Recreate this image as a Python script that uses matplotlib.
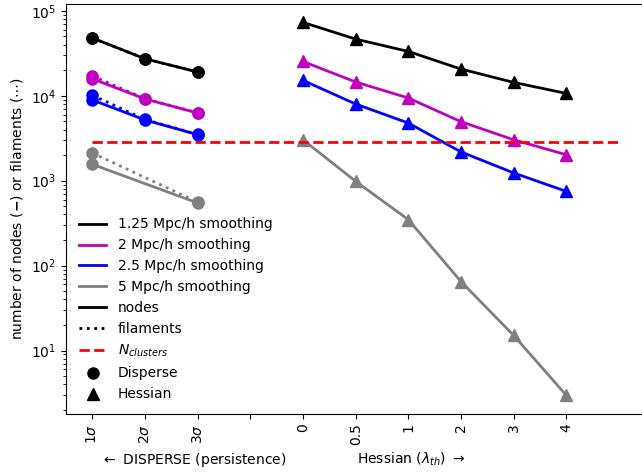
import numpy as np
import matplotlib.pyplot as plt
from matplotlib.lines import Line2D

# smoothing scales and their colours
labels = ['1.25 Mpc/h smoothing', '2 Mpc/h smoothing', '2.5 Mpc/h smoothing', '5 Mpc/h smoothing']
colors = ['k', 'm', 'b', 'grey']

# DISPERSE: persistence 1, 2, 3 sigma (nan = no run)
dispTicks = [r'1$\sigma$', r'2$\sigma$', r'3$\sigma$']
dispNodes = [
    [47700, 27200, 19000],
    [15800, 9150, 6250],
    [8900, 5180, 3475],
    [1555, np.nan, 546],
]
dispFilaments = [
    [47700, 27200, 19000],
    [17100, 9200, 6300],
    [10100, 5250, 3500],
    [2115, np.nan, 560],
]

# Hessian: eigenvalue threshold
hessTicks = ['0', '0.5', '1', '2', '3', '4']
hessNodes = [
    [72900, 46400, 33200, 20600, 14350, 10650],
    [25300, 14500, 9400, 4950, 3030, 2020],
    [15150, 7980, 4770, 2180, 1235, 748],
    [3030, 982, 348, 65, 15.1, 2.98],
]

nClusters = 2880

xDisp = np.arange(len(dispTicks))
xHess = np.arange(len(hessTicks)) + len(dispTicks) + 1

fig = plt.figure(figsize=(6.42, 4.73), dpi=100)
ax = fig.add_axes([0.103, 0.125, 0.902, 0.867])

for c, nodes, fils, hess in zip(colors, dispNodes, dispFilaments, hessNodes):
    n = np.array(nodes, dtype=float)
    f = np.array(fils, dtype=float)
    m = ~np.isnan(n)
    ax.plot(xDisp[m], f[m], ls=':', marker='o', color=c, lw=2, ms=8)
    ax.plot(xDisp[m], n[m], ls='-', marker='o', color=c, lw=2, ms=8)
    ax.plot(xHess, hess, ls='-', marker='^', color=c, lw=2, ms=8)

ax.plot([0, 10], [nClusters, nClusters], 'r--', lw=2)

ax.set_yscale('log')
ax.set_xlim(-0.5, 10.5)

ticks = list(xDisp) + [len(dispTicks)] + list(xHess)
ax.set_xticks(ticks)
ax.set_xticklabels(dispTicks + [''] + hessTicks, rotation=90)

ax.set_ylabel(r'number of nodes ($\mathbf{-}$) or filaments ($\cdots$)')
ax.text(1.92, -0.122, r'$\leftarrow$ DISPERSE (persistence)', transform=ax.get_xaxis_transform(),
        ha='center', va='baseline', fontsize=10)
ax.text(6.06, -0.122, r'Hessian ($\lambda_{th}$) $\rightarrow$', transform=ax.get_xaxis_transform(),
        ha='center', va='baseline', fontsize=10)

handles = [Line2D([], [], color=c, lw=2, label=l) for c, l in zip(colors, labels)]
handles += [
    Line2D([], [], color='k', lw=2, ls='-', label='nodes'),
    Line2D([], [], color='k', lw=2, ls=':', label='filaments'),
    Line2D([], [], color='r', lw=2, ls='--', label=r'$N_{clusters}$'),
    Line2D([], [], color='k', ls='None', marker='o', ms=8, label='Disperse'),
    Line2D([], [], color='k', ls='None', marker='^', ms=8, label='Hessian'),
]
ax.legend(handles=handles, loc='lower left', frameon=False, fontsize=10)

plt.savefig('out.png', dpi=100)
